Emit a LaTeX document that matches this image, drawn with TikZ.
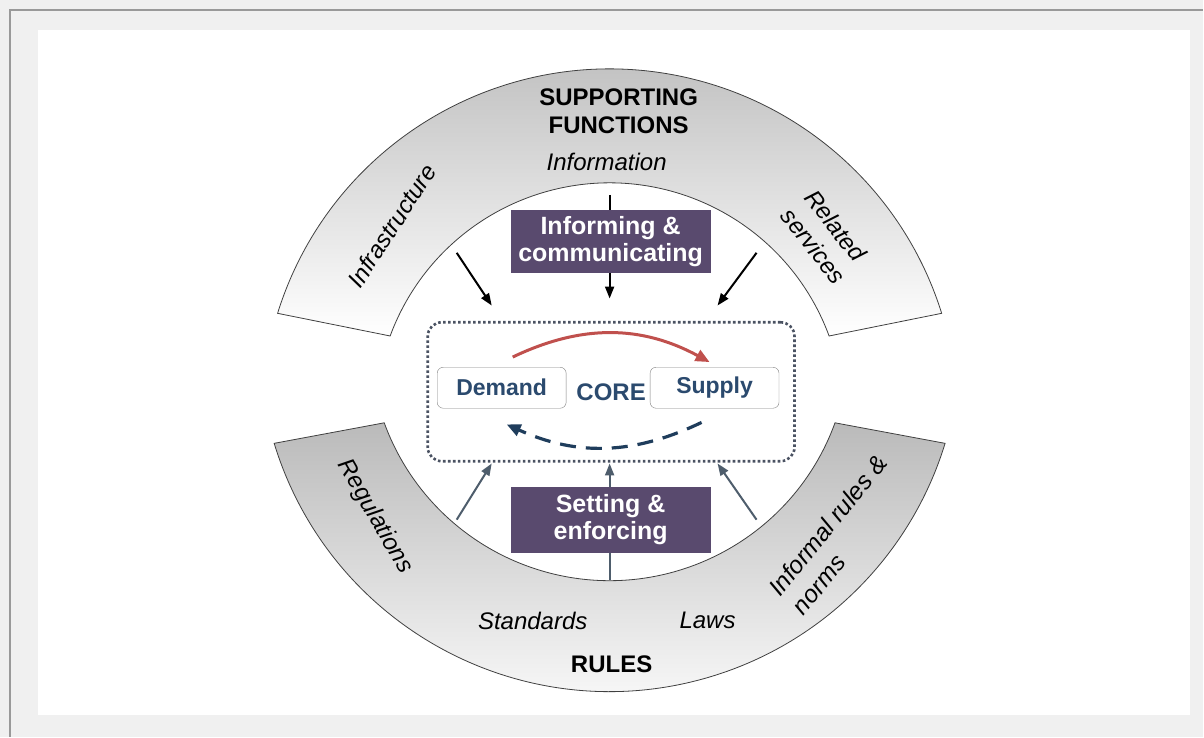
\documentclass[tikz,border=0pt]{standalone}
\usepackage{fontspec}
\setmainfont{Liberation Sans}
\usetikzlibrary{arrows.meta,calc}

\definecolor{pagegray}{HTML}{F0F0F0}
\definecolor{boxpurple}{HTML}{594A6E}
\definecolor{coreblue}{HTML}{2B4A6E}
\definecolor{loopblue}{HTML}{1F3D5C}
\definecolor{flowred}{HTML}{C0504D}
\definecolor{ruleslate}{HTML}{4E5D6C}
\definecolor{dotgray}{HTML}{4A5262}

\tikzset{
	band/.style={draw=black!75, line width=0.8pt, top color=black!27, bottom color=white},
	lbl/.style={font=\fontsize{24}{27}\selectfont, align=center},
	actor/.style={draw=black!50, rounded corners=6pt, fill=white, minimum width=129pt, minimum height=41pt,
		text=coreblue, font=\fontsize{23}{26}\selectfont\bfseries},
	func/.style={fill=boxpurple, text=white, minimum width=200pt, align=center,
		font=\fontsize{25}{27}\selectfont\bfseries},
	feed/.style={black, line width=2pt, -{Triangle[length=12pt,width=9pt]}},
	rulefeed/.style={ruleslate, line width=2pt, -{Triangle[length=12pt,width=9pt]}},
}

\begin{document}
\begin{tikzpicture}[x=1pt,y=1pt]
	\fill[pagegray] (0,0) rectangle (1204,737);
	\draw[black!40, line width=1.5pt] (10,0)--(10,727)--(1204,727);
	\fill[white] (38,22) rectangle (1191,707);

	% the two bands
	\coordinate (topc) at (610,320);
	\coordinate (botc) at (610,396);
	\draw[band] ($(topc)+(162.7:348)$) arc[start angle=162.7, end angle=17.3, radius=348]
		-- ($(topc)+(20.2:234)$) arc[start angle=20.2, end angle=159.8, radius=234] -- cycle;
	\draw[band] ($(botc)+(197:351)$) arc[start angle=197, end angle=343, radius=351]
		-- ($(botc)+(340:240)$) arc[start angle=340, end angle=200, radius=240] -- cycle;

	\node[lbl, font=\fontsize{24}{28}\selectfont\bfseries] (supp) at (619,626) {SUPPORTING\\FUNCTIONS};
	\node[lbl, font=\fontsize{24}{27}\selectfont\itshape] (info) at (607,575) {Information};
	\node[lbl, font=\fontsize{24}{27}\selectfont\itshape, rotate=57] (infra) at (392,511) {Infrastructure};
	\node[lbl, font=\fontsize{24}{30}\selectfont\itshape, rotate=-52, align=left] (relserv) at (826,500) {Related\\services};

	\node[lbl, font=\fontsize{24}{27}\selectfont\itshape, rotate=-60] (regul) at (375,220) {Regulations};
	\node[lbl, font=\fontsize{24.5}{30}\selectfont\itshape, rotate=51, align=left] (informal) at (840,202) {Informal rules \&\\norms};
	\node[lbl, font=\fontsize{24}{27}\selectfont\itshape] (stand) at (533,116) {Standards};
	\node[lbl, font=\fontsize{24}{27}\selectfont\itshape] (laws) at (708,116) {Laws};
	\node[lbl, font=\fontsize{24}{27}\selectfont\bfseries] (rules) at (612,72) {RULES};

	% core
	\node[draw=dotgray, line width=2.6pt, dash pattern=on 2.6pt off 2.4pt, rounded corners=14pt,
		minimum width=367pt, minimum height=139pt,
		text=coreblue, font=\fontsize{24}{27}\selectfont\bfseries] (core) at (611.5,345) {CORE};
	\node[actor] (demand) at (502,349) {Demand};
	\node[actor] (supply) at (715,349) {Supply};

	\draw[flowred, line width=3pt, -{Triangle[length=14pt,width=12pt]}]
		([shift={(11pt,10pt)}]demand.north) to[bend left=27] ([shift={(-5pt,5pt)}]supply.north);
	\draw[loopblue, line width=3.2pt, dash pattern=on 16pt off 10pt, -{Triangle[length=14pt,width=12pt]}]
		([shift={(-13pt,-14pt)}]supply.south) to[bend left=25] ([shift={(5pt,-16pt)}]demand.south);

	% supporting functions into the core
	\coordinate (infra-src) at (457,484);
	\coordinate (info-src) at (610,542);
	\coordinate (serv-src) at (757,484);
	\draw[feed] (infra-src) -- ([shift={(-119.5pt,15.5pt)}]core.north);
	\draw[feed] (info-src) -- ([shift={(-1.5pt,22.5pt)}]core.north);
	\draw[feed] (serv-src) -- ([shift={(106.5pt,15.5pt)}]core.north);

	% rules into the core
	\coordinate (regul-src) at (457,217);
	\coordinate (law-src) at (610,157);
	\coordinate (norm-src) at (757,217);
	\draw[rulefeed] (regul-src) -- ([shift={(-119.5pt,-1pt)}]core.south);
	\draw[rulefeed] (law-src) -- ([shift={(-1.5pt,-1pt)}]core.south);
	\draw[rulefeed] (norm-src) -- ([shift={(106.5pt,-1pt)}]core.south);

	\node[func, minimum height=63pt] (inform) at (611,495.5) {Informing \&\\communicating};
	\node[func, minimum height=66pt] (setting) at (611,217) {Setting \&\\enforcing};
\end{tikzpicture}
\end{document}
